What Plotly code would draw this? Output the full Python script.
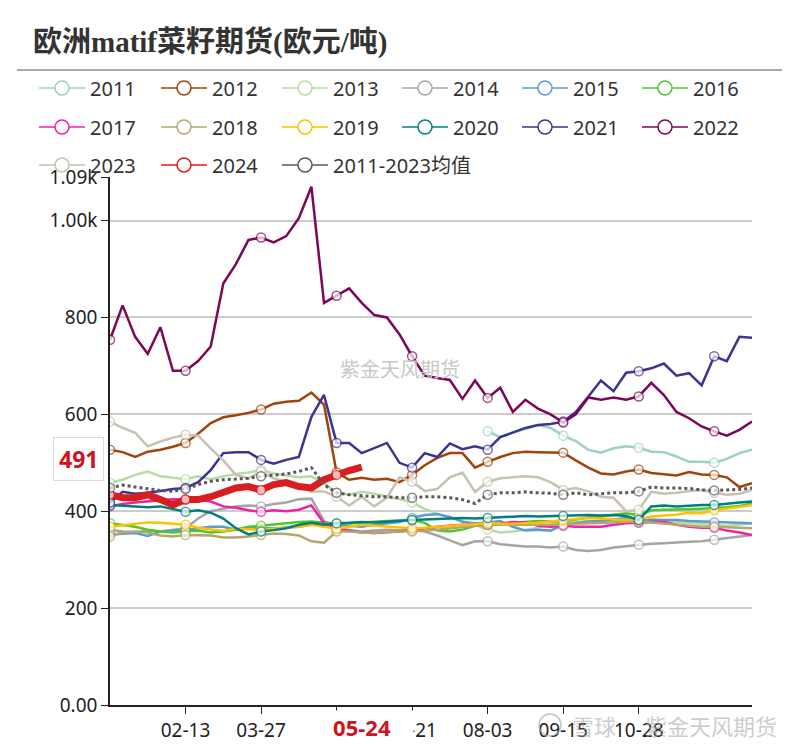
import plotly.graph_objects as go

dates = ["01-02", "01-09", "01-16", "01-23", "01-30", "02-06", "02-13", "02-20", "02-27", "03-06",
         "03-13", "03-20", "03-27", "04-03", "04-10", "04-17", "04-24", "05-01", "05-08", "05-15",
         "05-24", "05-31", "06-07", "06-14", "06-21", "06-28", "07-05", "07-12", "07-19", "07-26",
         "08-03", "08-10", "08-17", "08-24", "08-31", "09-07", "09-15", "09-22", "09-29", "10-06",
         "10-13", "10-20", "10-28", "11-04", "11-11", "11-18", "11-25", "12-02", "12-09", "12-16",
         "12-23", "12-30"]
tick_dates = ["02-13", "03-27", "05-08", "06-21", "08-03", "09-15", "10-28"]
y_tickvals = [0, 200, 400, 600, 800, 1000, 1090]
y_ticktext = ["0.00", "200", "400", "600", "800", "1.00k", "1.09k"]

y2011 = [None, None, None, None, None, None, None, None, None, None,
         None, None, None, None, None, None, None, None, None, None,
         None, None, None, None, None, None, None, None, None, None,
         565, 553, 562, 570, 578, 572, 556, 545, 527, 521,
         530, 534, 531, 523, 522, 513, 502, 502, 500, 508,
         520, 527]
y2012 = [527, 522, 512, 523, 527, 533, 541, 560, 582, 594,
         598, 603, 610, 622, 626, 628, 645, 620, 480, 465,
         469, 465, 467, 460, 475, 495, 510, 520, 520, 490,
         502, 512, 520, 523, 522, 521, 521, 505, 490, 478,
         476, 482, 486, 479, 477, 474, 481, 476, 475, 470,
         450, 458]
y2013 = [459, 465, 475, 482, 472, 469, 466, 472, 466, 472,
         477, 480, 485, 478, 474, 470, 472, 458, 438, 434,
         440, 436, 430, 425, 418, 405, 395, 388, 380, 372,
         362, 356, 358, 362, 366, 372, 375, 378, 380, 378,
         382, 380, 378, 385, 380, 378, 376, 374, 372, 370,
         372, 375]
y2014 = [362, 358, 356, 360, 358, 362, 365, 385, 400, 405,
         410, 412, 410, 415, 418, 425, 426, 380, 362, 360,
         358, 360, 362, 361, 361, 358, 350, 340, 330, 338,
         338, 332, 330, 327, 327, 325, 327, 320, 318, 320,
         325, 328, 331, 333, 334, 336, 337, 338, 341, 345,
         348, 351]
y2015 = [352, 354, 355, 349, 358, 360, 361, 365, 368, 368,
         362, 367, 365, 365, 366, 368, 372, 378, 372, 370,
         368, 372, 375, 378, 386, 392, 394, 388, 378, 375,
         376, 380, 368, 360, 362, 360, 372, 376, 379, 380,
         383, 386, 382, 382, 382, 382, 380, 379, 377, 376,
         375, 375]
y2016 = [375, 372, 368, 362, 358, 356, 358, 360, 356, 358,
         362, 368, 370, 372, 375, 378, 379, 376, 374, 375,
         377, 378, 380, 381, 382, 376, 360, 358, 362, 370,
         372, 374, 377, 378, 380, 379, 379, 383, 387, 389,
         393, 396, 392, 402, 403, 403, 404, 405, 406, 408,
         411, 416]
y2017 = [410, 415, 418, 420, 422, 425, 424, 424, 420, 410,
         407, 402, 399, 402, 400, 403, 412, 375, 365, 360,
         356, 355, 356, 358, 361, 365, 368, 370, 372, 372,
         372, 374, 378, 377, 370, 368, 370, 368, 368, 368,
         372, 375, 376, 378, 378, 372, 368, 366, 366, 360,
         356, 351]
y2018 = [348, 356, 358, 356, 350, 348, 351, 351, 350, 346,
         346, 348, 351, 354, 353, 350, 338, 335, 358, 358,
         356, 355, 357, 358, 358, 360, 362, 365, 368, 370,
         372, 372, 373, 372, 372, 372, 372, 374, 375, 376,
         378, 378, 379, 377, 375, 373, 370, 368, 368, 367,
         365, 365]
y2019 = [368, 371, 374, 377, 376, 374, 372, 366, 362, 359,
         364, 362, 361, 364, 366, 368, 372, 368, 364, 368,
         372, 370, 368, 366, 365, 366, 368, 370, 372, 374,
         375, 374, 374, 375, 376, 379, 382, 384, 386, 385,
         383, 382, 384, 389, 391, 393, 397, 396, 402, 405,
         409, 413]
y2020 = [413, 411, 409, 408, 410, 404, 399, 402, 397, 385,
         365, 352, 358, 361, 365, 372, 376, 372, 375, 376,
         378, 377, 379, 380, 382, 383, 384, 385, 386, 385,
         386, 388, 389, 390, 389, 390, 390, 392, 392, 391,
         392, 390, 382, 410, 412, 410, 412, 413, 413, 416,
         418, 420]
y2021 = [418, 440, 436, 438, 442, 446, 448, 460, 485, 520,
         522, 522, 506, 498, 506, 512, 595, 640, 541, 541,
         520, 531, 541, 500, 490, 520, 512, 540, 528, 534,
         527, 553, 563, 572, 578, 580, 585, 605, 637, 670,
         648, 686, 689, 695, 705, 680, 685, 660, 720, 710,
         760, 758]
y2022 = [754, 825, 760, 725, 780, 690, 690, 710, 740, 870,
         910, 960, 965, 955, 968, 1005, 1070, 830, 845, 860,
         830, 805, 800, 765, 720, 680, 675, 671, 632, 670,
         634, 655, 605, 630, 612, 600, 583, 600, 635, 630,
         635, 630, 637, 665, 640, 605, 592, 575, 565, 556,
         568, 585]
y2023 = [585, 572, 562, 534, 544, 552, 558, 556, 530, 505,
         475, 468, 482, 468, 461, 452, 441, 441, 430, 412,
         430, 410, 428, 470, 461, 442, 446, 470, 480, 440,
         461, 468, 470, 472, 470, 460, 444, 448, 441, 430,
         428, 400, 403, 440, 436, 438, 442, 444, 438, 434,
         436, 444]
y2024 = [434, 428, 428, 434, 424, 413, 424, 424, 430, 438,
         448, 451, 444, 455, 459, 451, 448, 465, 475, 484,
         491]
y_avg = [448, 454, 450, 446, 443, 441, 446, 455, 462, 465,
         466, 468, 472, 474, 477, 482, 490, 455, 438, 434,
         432, 430, 430, 428, 428, 430, 430, 428, 424, 416,
         434, 438, 438, 440, 438, 437, 434, 438, 434, 436,
         438, 438, 441, 450, 448, 448, 447, 444, 443, 444,
         445, 448]

series_names = ["2011", "2012", "2013", "2014", "2015", "2016", "2017", "2018",
                "2019", "2020", "2021", "2022", "2023", "2024", "2011-2023均值"]
series_values = [y2011, y2012, y2013, y2014, y2015, y2016, y2017, y2018,
                 y2019, y2020, y2021, y2022, y2023, y2024, y_avg]
colors = ["#9fcfc9", "#a0440b", "#b8dba5", "#a5a5a5", "#5b9bd5", "#4fc72c", "#ee22a6",
          "#b4a66d", "#ffc000", "#00807d", "#3c3392", "#7a0855", "#c9c0b2", "#d81e1e", "#595959"]

# page has an 8px body margin: figure origin sits at screen (8, 8)
OFF = 8
W, H = 800 - OFF, 749 - OFF
L, R, T, B = 110 - OFF, 800 - 752, 177 - OFF, 749 - 705
pw, ph = W - L - R, H - T - B


def px_x(x):
    return (x - OFF - L) / pw


def px_y(y):
    return (H - B - (y - OFF)) / ph


fig = go.Figure()
for name, vals, col in zip(series_names, series_values, colors):
    n = len(vals)
    sizes = [9 if i % 6 == 0 else 0 for i in range(n)]
    width = 2.5
    dash = "solid"
    if name == "2024":
        width = 7
    if name.endswith("均值"):
        width = 3
        dash = "dot"
    fig.add_trace(go.Scatter(
        x=dates[:n], y=vals, name=name, mode="lines+markers",
        line=dict(color=col, width=width, dash=dash),
        marker=dict(symbol="circle", size=sizes, color="white",
                    line=dict(color=col, width=1.5)),
        showlegend=False, connectgaps=False, hoverinfo="skip"))

font_main = "Noto Sans, Noto Sans CJK SC, sans-serif"
legend_cols = [34, 156, 277, 397, 517, 637]   # screen x of each legend column
legend_rows = [88, 127, 165]                  # screen y (centre) of each legend row
legend_layout = {}
for k, (name, col) in enumerate(zip(series_names, colors)):
    lid = "legend" if k == 0 else "legend%d" % (k + 1)
    fig.add_trace(go.Scatter(
        x=[None], y=[None], name=name, mode="lines+markers",
        line=dict(color=col, width=1.5),
        marker=dict(symbol="circle", size=14, color="white", line=dict(color=col, width=1.5)),
        legend=lid, showlegend=True, hoverinfo="skip"))
    cx = legend_cols[k % 6]
    cy = legend_rows[k // 6]
    legend_layout[lid] = dict(
        orientation="h", xref="container", yref="container",
        x=(cx - OFF) / W, y=1 - (cy - OFF) / H,
        xanchor="left", yanchor="middle", bgcolor="rgba(0,0,0,0)",
        font=dict(family=font_main, size=20, color="#333333"),
        itemwidth=46, itemclick=False)

fig.update_layout(
    width=W, height=H,
    margin=dict(l=L, r=R, t=T, b=B, autoexpand=False),
    paper_bgcolor="white", plot_bgcolor="white",
    showlegend=True,
    title=dict(text="<b>欧洲matif菜籽期货(欧元/吨)</b>", xref="container", yref="container",
               x=(33 - OFF) / W, y=1 - (42 - OFF) / H, xanchor="left", yanchor="middle",
               font=dict(family="Liberation Serif, Noto Sans CJK SC, serif", size=29, color="#333333")),
    xaxis=dict(type="category", categoryorder="array", categoryarray=dates,
               range=[0, len(dates) - 1], tickmode="array", tickvals=tick_dates,
               ticktext=tick_dates, ticks="outside", ticklen=7, tickcolor="#222222",
               showline=True, linecolor="#222222", linewidth=1.5, showgrid=False,
               zeroline=False, tickfont=dict(family=font_main, size=19, color="#222222")),
    yaxis=dict(range=[0, 1090], tickmode="array", tickvals=y_tickvals, ticktext=y_ticktext,
               ticks="outside", ticklen=7, tickcolor="#222222", showline=True,
               linecolor="#222222", linewidth=1.5, showgrid=True, gridcolor="#cccccc",
               gridwidth=1.5, zeroline=False,
               tickfont=dict(family=font_main, size=19, color="#222222")),
    **legend_layout,
)

# header separator line
fig.add_shape(type="line", xref="paper", yref="paper",
              x0=px_x(17), x1=px_x(782), y0=px_y(70), y1=px_y(70),
              line=dict(color="#aaaaaa", width=2))

# watermark in the plot
fig.add_annotation(xref="paper", yref="paper", x=px_x(400), y=px_y(368),
                   xanchor="center", yanchor="middle",
                   text="紫金天风期货", showarrow=False,
                   font=dict(family="Noto Sans CJK SC", size=20, color="#c8c8c8"))

# axis pointer labels
fig.add_annotation(xref="x", yref="paper", x="05-24", y=px_y(727),
                   xanchor="center", yanchor="middle",
                   text="<b>05-24</b>", showarrow=False, bgcolor="white",
                   width=100, height=30,
                   font=dict(family=font_main, size=22, color="#d0141c"))
fig.add_annotation(xref="paper", yref="paper", x=px_x(78), y=px_y(459),
                   xanchor="center", yanchor="middle",
                   text="<b>491</b>", showarrow=False, bgcolor="white",
                   bordercolor="#dddddd", borderwidth=1, borderpad=5,
                   font=dict(family=font_main, size=23, color="#d0141c"))

# bottom-right watermark
fig.add_shape(type="circle", xref="paper", yref="paper",
              x0=px_x(539), x1=px_x(561), y0=px_y(736), y1=px_y(714),
              line=dict(color="rgba(170,170,170,0.7)", width=1.5))
fig.add_annotation(xref="paper", yref="paper", x=px_x(570), y=px_y(725),
                   xanchor="left", yanchor="middle", text="雪球", showarrow=False,
                   font=dict(family="Noto Sans CJK SC", size=22, color="rgba(170,170,170,0.6)"))
fig.add_annotation(xref="paper", yref="paper", x=px_x(643), y=px_y(725),
                   xanchor="left", yanchor="middle", text="紫金天风期货", showarrow=False,
                   font=dict(family="Noto Sans CJK SC", size=22, color="rgba(170,170,170,0.6)"))

fig.write_html("out.html")
